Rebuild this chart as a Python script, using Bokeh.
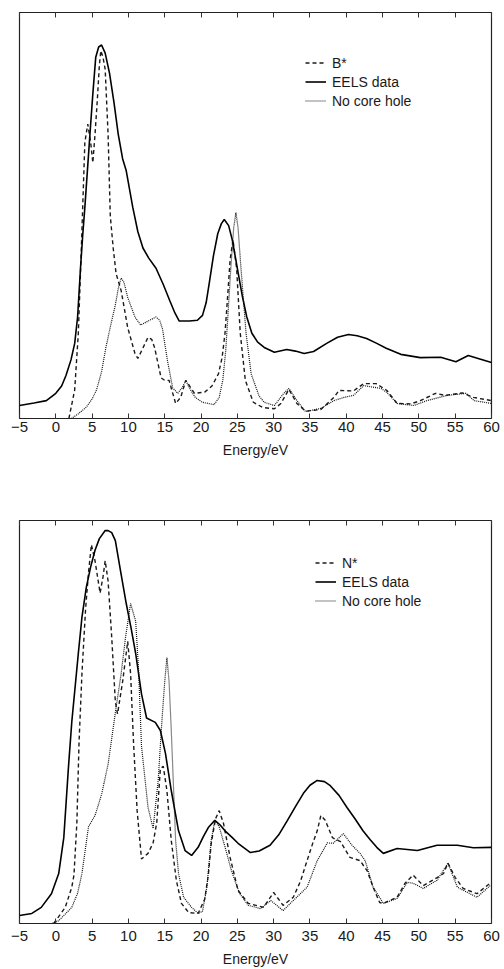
from bokeh.plotting import figure
from bokeh.models import Range1d, LinearAxis, Legend, LegendItem
from bokeh.layouts import column
from bokeh.embed import file_html
from bokeh.resources import INLINE

# ---------------- data (energy in eV, intensity in arbitrary units) ----------------
top_eels_e = [-5.0, -3.0, -1.3, 0.0, 0.8, 1.4, 2.1, 2.6, 3.0, 3.4, 3.7, 4.0, 4.7, 5.1, 5.5, 5.9, 6.3,
              6.8, 7.4, 8.0, 8.6, 9.2, 9.7, 10.6, 11.3, 12.0, 12.8, 13.8, 14.8, 15.7, 16.4, 17.0, 18.4,
              19.5, 20.2, 20.7, 21.1, 21.7, 22.3, 22.8, 23.2, 23.8, 24.3, 25.0, 25.7, 26.3, 27.0,
              27.8, 28.7, 30.1, 31.8, 33.0, 34.2, 35.5, 37.3, 38.8, 40.3, 41.5, 42.8, 44.2, 45.5,
              47.5, 50.2, 53.0, 55.1, 56.8, 58.5, 60.0]
top_eels_i = [3.2, 3.8, 4.4, 6.2, 8.0, 10.6, 14.5, 18.5, 25, 37, 45, 52, 70, 80, 89, 91.5, 92,
              90, 85, 78, 70, 64, 61, 52, 46, 42, 39.5, 37, 33, 29, 26, 24, 24,
              24.2, 25.4, 28.5, 33, 40, 45.5, 48, 49, 47.5, 44, 37, 30, 25, 21,
              18.8, 17.5, 16.3, 17, 16.6, 16, 16.5, 18.5, 20, 20.7, 20.4, 19.7, 18.5, 17.3,
              15.8, 15, 15.1, 14, 15.5, 14.6, 13.8]

top_bstar_e = [1.8, 2.6, 3.1, 3.5, 4.0, 4.4, 4.8, 5.1, 5.4, 5.7, 6.0, 6.2, 6.5, 6.8, 7.2, 7.5, 7.9,
               8.3, 9.0, 9.9, 10.9, 11.3, 11.9, 12.7, 13.2, 13.6, 14.5, 15.0, 15.6, 16.5, 17.2,
               17.9, 19.1, 20.5, 21.5, 22.4, 22.9, 23.3, 23.7, 24.0, 24.4, 24.9, 25.4, 26.1,
               27.2, 28.5, 30.1, 31.0, 32.1, 33.2, 34.4, 36.5, 38.3, 39.0, 41.0, 42.4, 44.1,
               45.6, 47.0, 48.9, 50.2, 52.3, 53.6, 56.0, 57.5, 60.0]
top_bstar_i = [0, 7, 21, 41, 68, 72.5, 68, 63, 70, 78, 87, 90.6, 89, 86, 70, 50, 42,
               35.7, 31.5, 22.4, 16, 14.8, 17, 20, 19.5, 17.5, 10, 9.4, 9.4, 3.7, 5.2,
               9.4, 6.2, 6.5, 8, 11, 15, 21, 31, 39, 44, 37, 21, 9.4,
               4, 2.7, 2.4, 3.7, 7.2, 3.7, 1.8, 2.2, 5.2, 6.9, 6.8, 8.6, 8.6,
               6.9, 3.7, 3.6, 4.4, 6.2, 5.7, 6.3, 5.2, 4.4]

top_nch_e = [2.1, 3.0, 4.2, 5.0, 5.6, 6.3, 6.9, 7.5, 8.2, 8.6, 9.0, 9.4, 9.9, 10.9, 11.7, 12.7, 13.8,
             14.3, 14.7, 15.0, 15.4, 16.1, 16.8, 17.4, 17.9, 18.5, 19.2, 20.2, 21.8, 22.5, 23.0,
             23.4, 24.1, 24.5, 24.8, 25.1, 25.5, 26.2, 26.9, 28.0, 28.7, 30.1, 31.4, 32.1, 33.2,
             34.4, 36.5, 38.3, 39.7, 41.0, 42.4, 44.8, 45.6, 47.0, 49.3, 51.1, 53.9, 56.5, 57.6,
             60.0]
top_nch_i = [0, 1, 2.8, 4.8, 7, 11.5, 17.5, 22.5, 28, 32, 34.6, 33.5, 29.8, 25, 23, 24, 25,
             24.2, 22, 18.5, 14, 7.5, 6.2, 7.6, 9.4, 7.2, 5.2, 4, 3.4, 5.2, 9.5,
             16.7, 37, 47, 50.7, 47, 37, 21, 11, 5.5, 4, 3.2, 6.2, 7.4, 4.4,
             1.7, 2.5, 4.4, 5.2, 5.7, 8.1, 7.4, 6.4, 3.7, 3.2, 4.4, 5.7, 6.2, 4.4,
             3.7]

bot_eels_e = [-5.0, -3.3, -2.0, -0.6, 0.4, 1.1, 1.75, 2.2, 3.1, 3.6, 4.2, 4.8, 5.4, 6.0, 6.8, 7.2,
              7.7, 8.2, 8.9, 9.7, 10.4, 11.0, 11.8, 12.5, 13.7, 14.4, 15.1, 15.9, 16.9, 17.8, 18.7,
              19.6, 20.3, 21.0, 21.9, 22.6, 23.3, 24.2, 25.1, 26.8, 28.0, 29.5, 30.7, 31.9, 33.0,
              34.1, 35.0, 36.0, 37.0, 37.8, 39.0, 40.1, 41.2, 42.3, 43.3, 44.2, 45.1, 47.0, 49.8,
              52.5, 55.3, 57.5, 60.0]
bot_eels_i = [2, 2.5, 4, 7.4, 12.4, 21.3, 39, 50, 67, 76, 83.4, 88.5, 92.6, 95.5, 97.5, 97.5,
              97, 95, 87.6, 79.4, 73, 67, 57, 51, 49.9, 47.9, 42.2, 33, 23, 18.1, 16.9,
              18.9, 21.5, 23.8, 25.6, 24.5, 23, 21.5, 19.9, 17.6, 18, 19.4, 22, 25.6, 29,
              32.3, 34.3, 35.5, 35.2, 34.2, 31.8, 28.8, 26, 23, 20.8, 18.9, 17.4, 18.6, 18.1,
              19.4, 19.4, 18.8, 18.9]

bot_nstar_e = [-0.3, 0.0, 1.3, 2.2, 2.5, 2.9, 3.2, 3.6, 4.1, 4.5, 4.9, 5.4, 6.1, 6.5, 6.8, 7.2, 7.7,
               8.2, 8.5, 9.2, 9.9, 10.3, 10.7, 11.2, 11.8, 12.7, 13.4, 13.9, 14.4, 14.8, 15.3,
               15.9, 16.6, 17.3, 18.3, 19.6, 20.5, 21.0, 21.4, 22.0, 22.5, 23.1, 24.0, 25.1,
               26.5, 28.6, 30.0, 31.3, 32.7, 33.7, 34.6, 35.4, 36.0, 36.5, 37.1, 38.1, 39.2,
               40.5, 41.9, 42.9, 43.7, 44.6, 45.1, 47.0, 48.1, 49.2, 50.6, 52.5, 53.4, 54.0,
               55.0, 56.1, 58.0, 59.8]
bot_nstar_i = [0, 0.7, 4, 9, 12, 25, 45, 62, 78, 87, 94, 90, 82, 86, 90, 85, 71,
               55, 52, 60, 70, 62, 45, 28, 16, 17.4, 20, 25, 38.5, 39, 33,
               20.6, 10.7, 5, 2.7, 2.5, 6, 12, 19.9, 26, 28, 24.8, 16.4, 8.2,
               5, 4, 7.7, 4.5, 6.5, 10.5, 15.6, 20, 23, 26.8, 25.6, 21.3, 20.3,
               16.4, 15.6, 13, 9, 5.2, 5, 6.5, 10, 12, 9.4, 11.4, 12.4, 15,
               11.4, 8.7, 7.4, 10]

bot_nch_e = [-0.5, 0.4, 2.2, 3.0, 3.6, 4.5, 5.4, 6.3, 7.2, 8.3, 9.0, 9.6, 10.3, 11.0, 11.4, 11.8,
             12.7, 13.4, 14.1, 14.6, 15.0, 15.3, 15.6, 15.9, 16.5, 16.9, 17.6, 18.7, 19.6, 20.2,
             20.8, 21.4, 21.9, 22.5, 23.3, 24.2, 25.3, 26.5, 28.2, 29.6, 31.3, 32.7, 34.6, 36.0,
             37.4, 38.2, 39.6, 40.8, 41.9, 42.6, 43.7, 45.1, 47.0, 48.4, 49.2, 50.6, 52.5, 54.0,
             55.3, 58.0, 59.8]
bot_nch_i = [0, 0.7, 4, 7.5, 12.4, 24, 26.8, 32, 39.5, 53.6, 62, 71, 79.4, 75, 63, 44,
             28.8, 23.6, 35.5, 50, 60, 66, 60, 48, 20.6, 12.4, 6.5, 4, 2.5, 3,
             9, 20.6, 25.6, 24, 19, 13, 7.5, 4.5, 3.7, 5.7, 3.2, 5.7, 9, 15.6,
             20, 19.9, 22.3, 19.4, 17.4, 15.6, 9, 5, 6.2, 10.2, 10, 8.7, 10.7, 15,
             9, 6.5, 9.4]

x_ticks = [-5, 0, 5, 10, 15, 20, 25, 30, 35, 40, 45, 50, 55, 60]
x_label = "Energy/eV"
top_labels = ["B*", "EELS data", "No core hole"]
bot_labels = ["N*", "EELS data", "No core hole"]

FONT = "Liberation Sans"
INK = "#1a1a1a"


def style_ticks(ax):
    ax.ticker.num_minor_ticks = 2
    ax.axis_line_color = None
    ax.major_tick_in = 5
    ax.major_tick_out = 0
    ax.minor_tick_in = 3
    ax.minor_tick_out = 0
    ax.major_tick_line_color = "#333333"
    ax.minor_tick_line_color = "#333333"


def make_panel(height, border_top, border_bottom, border_left, border_right,
               eels, star, nch, labels, legend_loc, label_standoff, axis_standoff):
    p = figure(width=504, height=height, output_backend="svg", toolbar_location=None,
               x_range=Range1d(-5, 60), y_range=Range1d(0, 100),
               min_border_top=border_top, min_border_bottom=border_bottom,
               min_border_left=border_left, min_border_right=border_right)
    p.background_fill_color = "white"
    p.border_fill_color = "white"
    p.outline_line_color = "#222222"
    p.outline_line_width = 1.2
    p.grid.visible = False
    p.yaxis.visible = False

    ax = p.xaxis[0]
    ax.ticker = x_ticks
    style_ticks(ax)
    ax.major_label_overrides = {-5: "\u22125"}
    ax.major_label_text_font = FONT
    ax.major_label_text_font_size = "15px"
    ax.major_label_text_color = INK
    ax.major_label_standoff = label_standoff
    ax.axis_label = x_label
    ax.axis_label_text_font = FONT
    ax.axis_label_text_font_size = "14px"
    ax.axis_label_text_font_style = "normal"
    ax.axis_label_text_color = INK
    ax.axis_label_standoff = axis_standoff

    # tick marks along the top edge, no labels
    top_ax = LinearAxis(ticker=x_ticks)
    style_ticks(top_ax)
    top_ax.major_label_overrides = {t: "" for t in x_ticks}
    top_ax.major_label_standoff = 0
    p.add_layout(top_ax, "above")

    r_star = p.line(star[0], star[1], line_color=INK, line_width=1.4, line_dash="4 3")
    r_eels = p.line(eels[0], eels[1], line_color="#000000", line_width=1.6)
    r_nch = p.line(nch[0], nch[1], line_color="#111111", line_width=1.2, line_dash="1 1")

    legend = Legend(items=[LegendItem(label=labels[0], renderers=[r_star]),
                           LegendItem(label=labels[1], renderers=[r_eels]),
                           LegendItem(label=labels[2], renderers=[r_nch])],
                    location=legend_loc)
    legend.background_fill_alpha = 0
    legend.border_line_color = None
    legend.margin = 0
    legend.padding = 0
    legend.spacing = 0
    legend.glyph_width = 21
    legend.glyph_height = 19
    legend.label_height = 19
    legend.label_standoff = 6
    legend.label_text_font = FONT
    legend.label_text_font_size = "14px"
    legend.label_text_color = INK
    p.add_layout(legend, "center")
    return p


top = make_panel(465, 12, 47, 16, 13,
                 (top_eels_e, top_eels_i), (top_bstar_e, top_bstar_i), (top_nch_e, top_nch_i),
                 top_labels, (286, 308), 3, 7)
bot = make_panel(504, 55, 46, 19, 10,
                 (bot_eels_e, bot_eels_i), (bot_nstar_e, bot_nstar_i), (bot_nch_e, bot_nch_i),
                 bot_labels, (296, 313), 7, 7)

layout = column(top, bot, spacing=0)
open("out.html", "w").write(file_html(layout, INLINE))
